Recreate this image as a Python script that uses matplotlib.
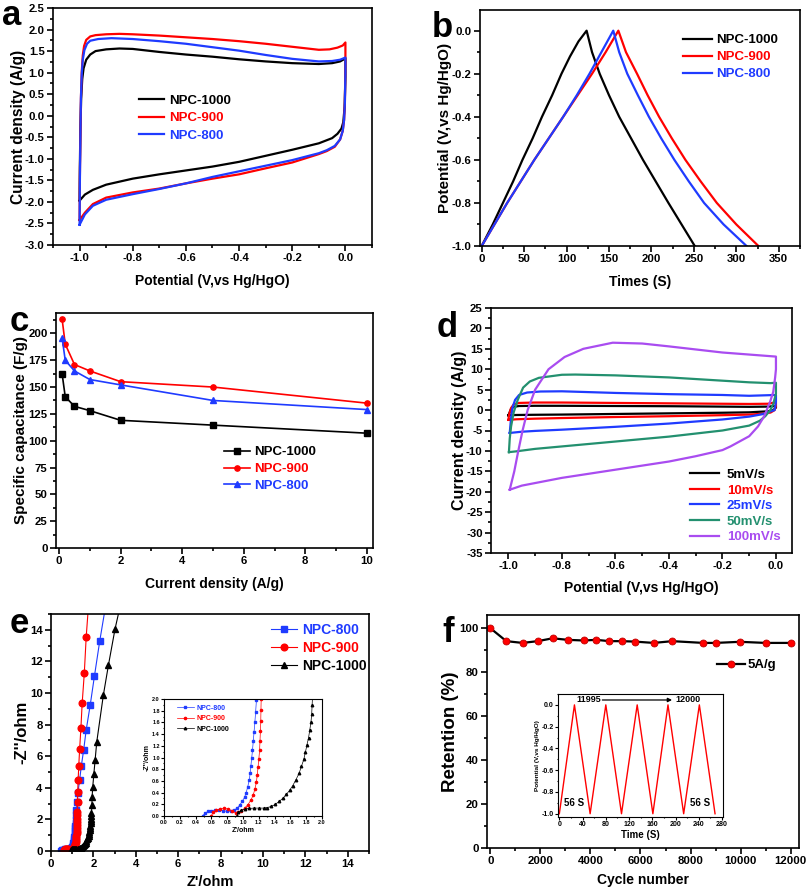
import matplotlib
matplotlib.use('Agg')
import matplotlib.pyplot as plt
from matplotlib.ticker import MultipleLocator

plt.rcParams['font.family'] = ['Liberation Sans', 'DejaVu Sans']
plt.rcParams['font.weight'] = 'bold'
plt.rcParams['axes.labelweight'] = 'bold'
plt.rcParams['axes.unicode_minus'] = False
plt.rcParams['axes.linewidth'] = 1.2

RED = '#ff0000'
BLUE = '#1f3bff'
GREEN = '#23906f'
PURPLE = '#a94cf0'

# ---------------- a: CV curves of the three samples ----------------
a_v_1000 = [-1.0, -0.999, -0.997, -0.994, -0.99, -0.985, -0.975, -0.96, -0.94, -0.9, -0.85, -0.8, -0.7, -0.6,
            -0.5, -0.4, -0.3, -0.2, -0.1, -0.05, -0.02, 0.0, 0.0, -0.003, -0.008, -0.015, -0.03, -0.05, -0.1,
            -0.2, -0.3, -0.4, -0.5, -0.6, -0.7, -0.8, -0.9, -0.95, -0.98, -1.0]
a_i_1000 = [-1.97, -1.2, -0.3, 0.4, 0.85, 1.1, 1.3, 1.42, 1.5, 1.54, 1.56, 1.55, 1.48, 1.42,
            1.37, 1.31, 1.26, 1.22, 1.2, 1.22, 1.26, 1.33, 0.9, 0.2, -0.15, -0.3, -0.42, -0.52, -0.64,
            -0.79, -0.93, -1.07, -1.18, -1.27, -1.36, -1.46, -1.6, -1.72, -1.83, -1.97]
a_v_900 = [-1.0, -0.999, -0.997, -0.995, -0.992, -0.988, -0.983, -0.975, -0.96, -0.94, -0.9, -0.85, -0.8, -0.7,
           -0.6, -0.5, -0.4, -0.3, -0.2, -0.1, -0.06, -0.03, -0.01, 0.0, 0.0, -0.002, -0.005, -0.01, -0.02,
           -0.04, -0.07, -0.1, -0.2, -0.3, -0.4, -0.5, -0.6, -0.7, -0.8, -0.9, -0.95, -0.98, -1.0]
a_i_900 = [-2.42, -1.5, -0.5, 0.4, 1.0, 1.4, 1.62, 1.76, 1.84, 1.87, 1.89, 1.9, 1.89, 1.86,
           1.82, 1.78, 1.73, 1.67, 1.6, 1.53, 1.54, 1.58, 1.63, 1.7, 1.2, 0.3, -0.1, -0.35, -0.55,
           -0.72, -0.82, -0.89, -1.085, -1.22, -1.36, -1.46, -1.57, -1.69, -1.78, -1.9, -2.05, -2.25, -2.42]
a_v_800 = [-1.0, -0.999, -0.997, -0.995, -0.992, -0.988, -0.982, -0.972, -0.96, -0.93, -0.88, -0.8, -0.7,
           -0.6, -0.5, -0.4, -0.3, -0.2, -0.1, -0.05, -0.02, 0.0, 0.0, -0.002, -0.005, -0.01, -0.02,
           -0.04, -0.07, -0.1, -0.2, -0.3, -0.4, -0.5, -0.6, -0.7, -0.8, -0.9, -0.95, -0.98, -1.0]
a_i_800 = [-2.53, -1.6, -0.5, 0.4, 0.95, 1.3, 1.52, 1.67, 1.74, 1.78, 1.8, 1.78, 1.73,
           1.67, 1.59, 1.51, 1.41, 1.32, 1.26, 1.27, 1.3, 1.35, 1.0, 0.3, -0.1, -0.35, -0.55,
           -0.7, -0.8, -0.87, -1.03, -1.16, -1.29, -1.42, -1.57, -1.7, -1.82, -1.95, -2.09, -2.29, -2.53]

# ---------------- b: charge / discharge ----------------
b_t_1000 = [0, 13, 25, 37, 48, 60, 71, 83, 94, 104, 114, 123.6, 130, 139, 150, 162, 176, 190, 205, 220, 235.5, 251]
b_v_1000 = [-1.0, -0.9, -0.8, -0.7, -0.6, -0.5, -0.4, -0.3, -0.2, -0.12, -0.05, 0.0, -0.1, -0.2, -0.3, -0.4,
            -0.5, -0.6, -0.7, -0.8, -0.9, -1.0]
b_t_900 = [0, 15, 30, 46, 62, 79, 96, 113, 130, 146, 161, 170, 183, 195.5, 209, 224, 240, 258, 277, 300, 326]
b_v_900 = [-1.0, -0.9, -0.8, -0.7, -0.6, -0.5, -0.4, -0.3, -0.2, -0.1, 0.0, -0.1, -0.2, -0.3, -0.4, -0.5,
           -0.6, -0.7, -0.8, -0.9, -1.0]
b_t_800 = [0, 15, 30, 46, 62, 79, 96, 112, 127, 141, 155, 162, 171.5, 184, 197, 211.5, 227, 244, 262, 285, 312]
b_v_800 = [-1.0, -0.9, -0.8, -0.7, -0.6, -0.5, -0.4, -0.3, -0.2, -0.1, 0.0, -0.1, -0.2, -0.3, -0.4, -0.5,
           -0.6, -0.7, -0.8, -0.9, -1.0]

# ---------------- c: rate capability ----------------
c_density = [0.1, 0.2, 0.5, 1, 2, 5, 10]
c_cap_1000 = [162, 141, 132, 128, 119, 114.5, 107]
c_cap_900 = [213, 190, 171, 165, 155, 150, 135]
c_cap_800 = [195.5, 175, 165, 157, 152, 137.5, 129]

# ---------------- d: CV at several scan rates ----------------
d_v_5 = [-1.0, -0.995, -0.99, -0.98, -0.96, -0.9, -0.8, -0.6, -0.4, -0.2, -0.1, -0.03, 0.0, 0.0, -0.01,
         -0.03, -0.1, -0.2, -0.4, -0.6, -0.8, -0.9, -0.97, -1.0]
d_i_5 = [-1.3, -0.5, 0.3, 0.8, 1.0, 1.05, 1.05, 1.0, 0.95, 0.85, 0.8, 0.85, 1.0, 0.6, 0.0,
         -0.3, -0.55, -0.65, -0.8, -0.95, -1.1, -1.15, -1.2, -1.3]
d_v_10 = [-1.0, -0.997, -0.99, -0.98, -0.96, -0.9, -0.8, -0.6, -0.4, -0.2, -0.1, -0.03, 0.0, 0.0, -0.005,
          -0.02, -0.05, -0.1, -0.2, -0.4, -0.6, -0.8, -0.9, -0.97, -1.0]
d_i_10 = [-2.4, -1.0, 0.5, 1.4, 1.75, 1.85, 1.85, 1.75, 1.65, 1.55, 1.5, 1.55, 1.9, 1.0, 0.0,
          -0.6, -0.9, -1.1, -1.25, -1.5, -1.7, -1.95, -2.1, -2.25, -2.4]
d_v_25 = [-0.995, -0.99, -0.985, -0.975, -0.96, -0.93, -0.88, -0.8, -0.6, -0.4, -0.2, -0.1, 0.0, 0.0,
          -0.005, -0.02, -0.05, -0.1, -0.2, -0.3, -0.4, -0.6, -0.8, -0.9, -0.95, -0.995]
d_i_25 = [-5.6, -2.0, 0.5, 2.5, 3.7, 4.3, 4.55, 4.6, 4.2, 3.9, 3.7, 3.5, 3.7, 2.0,
          0.0, -0.3, -1.0, -1.6, -2.3, -2.8, -3.3, -4.1, -4.8, -5.1, -5.3, -5.6]
d_v_50 = [-0.998, -0.995, -0.99, -0.98, -0.965, -0.945, -0.92, -0.886, -0.8, -0.75, -0.6, -0.4, -0.2, -0.1,
          -0.02, 0.0, 0.0, -0.01, -0.021, -0.04, -0.06, -0.1, -0.2, -0.4, -0.6, -0.8, -0.9, -0.97, -0.998]
d_i_50 = [-10.3, -7.0, -4.0, -0.5, 2.5, 5.5, 7.0, 7.9, 8.65, 8.7, 8.5, 8.0, 7.2, 6.8,
          6.6, 6.7, 4.0, 1.5, 0.0, -1.5, -2.6, -3.8, -5.0, -6.5, -7.7, -8.9, -9.5, -10.1, -10.3]
d_v_100 = [-0.995, -0.978, -0.963, -0.947, -0.928, -0.9, -0.85, -0.79, -0.72, -0.61, -0.5, -0.4, -0.2, 0.0,
           0.0, -0.003, -0.01, -0.022, -0.044, -0.067, -0.1, -0.17, -0.2, -0.3, -0.4, -0.6, -0.8, -0.95, -0.995]
d_i_100 = [-19.5, -15.0, -10.0, -5.0, 0.0, 5.0, 10.0, 13.0, 15.0, 16.5, 16.3, 15.6, 14.1, 13.1,
           10.0, 8.0, 4.5, 2.0, -1.5, -4.0, -6.4, -8.9, -9.8, -11.3, -12.6, -14.6, -16.6, -18.5, -19.5]

# ---------------- e: Nyquist plots ----------------
e_zr_800 = [0.49, 0.52, 0.56, 0.60, 0.65, 0.70, 0.75, 0.80, 0.85, 0.89, 0.93, 0.96, 0.99, 1.02, 1.04, 1.06,
            1.08, 1.09, 1.10, 1.11, 1.12, 1.13, 1.14, 1.15, 1.16, 1.17, 1.18, 1.20, 1.23, 1.27, 1.35, 1.43,
            1.54, 1.66, 1.85, 2.05, 2.30, 2.70]
e_zi_800 = [0.0, 0.05, 0.08, 0.09, 0.10, 0.10, 0.09, 0.08, 0.08, 0.10, 0.14, 0.19, 0.25, 0.32, 0.40, 0.50,
            0.62, 0.73, 0.86, 0.99, 1.12, 1.28, 1.44, 1.60, 1.78, 1.98, 2.25, 2.6, 3.1, 3.69, 4.49, 5.38,
            6.39, 7.66, 9.24, 11.08, 13.3, 16.5]
e_zr_900 = [0.60, 0.62, 0.66, 0.71, 0.76, 0.81, 0.86, 0.91, 0.94, 0.98, 1.02, 1.06, 1.10, 1.13, 1.15, 1.17,
            1.18, 1.19, 1.20, 1.21, 1.215, 1.22, 1.225, 1.227, 1.23, 1.235, 1.24, 1.25, 1.26, 1.28, 1.31,
            1.35, 1.41, 1.47, 1.57, 1.66, 1.82]
e_zi_900 = [0.0, 0.06, 0.10, 0.12, 0.13, 0.12, 0.09, 0.05, 0.06, 0.09, 0.13, 0.19, 0.27, 0.36, 0.46, 0.58,
            0.70, 0.83, 0.97, 1.12, 1.28, 1.45, 1.62, 1.81, 2.0, 2.25, 2.5, 3.08, 3.76, 4.49, 5.4,
            6.43, 7.76, 9.35, 11.24, 13.54, 16.5]
e_zr_1000 = [0.92, 0.94, 0.98, 1.03, 1.08, 1.14, 1.20, 1.26, 1.31, 1.36, 1.41, 1.46, 1.51, 1.55, 1.59, 1.63,
             1.67, 1.71, 1.74, 1.77, 1.79, 1.81, 1.83, 1.845, 1.86, 1.87, 1.875, 1.88, 1.89, 1.91, 1.93,
             1.94, 1.97, 2.02, 2.08, 2.16, 2.47, 2.71, 3.02, 3.43]
e_zi_1000 = [0.0, 0.06, 0.10, 0.12, 0.13, 0.135, 0.135, 0.135, 0.145, 0.165, 0.20, 0.25, 0.31, 0.37, 0.44, 0.52,
             0.62, 0.73, 0.85, 0.97, 1.09, 1.22, 1.34, 1.47, 1.6, 1.75, 1.9, 2.05, 2.2, 2.43, 2.91,
             3.44, 4.07, 4.85, 5.75, 6.92, 9.87, 11.77, 14.05, 16.5]

# ---------------- f: cycling stability ----------------
f_cycles = [0, 640, 1290, 1890, 2490, 3090, 3730, 4230, 4760, 5270, 5770, 6530, 7270, 8510, 9000, 9970,
            11000, 12000]
f_retention = [100, 94.1, 93.3, 94.1, 95.4, 94.7, 94.4, 94.7, 94.1, 94.1, 93.9, 93.3, 94.1, 93.3, 93.3, 93.8,
               93.3, 93.3]
f_time = [0, 26, 53, 80, 107, 134, 161, 187, 214, 241, 268]
f_potential = [-1.0, 0.0, -1.0, 0.0, -1.0, 0.0, -1.0, 0.0, -1.0, 0.0, -1.0]

W, H = 808, 891
fig = plt.figure(figsize=(W / 100, H / 100), dpi=100)


def box(l, t, r, b):
    return [l / W, 1 - b / H, (r - l) / W, (b - t) / H]


def style(ax, xmaj, xmin, ymaj, ymin, fs=8.2, mlen=4, lw=1.2):
    ax.xaxis.set_major_locator(MultipleLocator(xmaj))
    ax.xaxis.set_minor_locator(MultipleLocator(xmin))
    ax.yaxis.set_major_locator(MultipleLocator(ymaj))
    ax.yaxis.set_minor_locator(MultipleLocator(ymin))
    ax.tick_params(which='major', direction='out', length=mlen, width=lw, labelsize=fs, pad=2)
    ax.tick_params(which='minor', direction='out', length=mlen / 2, width=lw)
    for lab in ax.get_xticklabels() + ax.get_yticklabels():
        lab.set_fontweight('bold')
    for s in ax.spines.values():
        s.set_linewidth(lw)


def color_legend(leg):
    for txt, ln in zip(leg.get_texts(), leg.get_lines()):
        txt.set_color(ln.get_color())


# a
ax = fig.add_axes(box(53, 8, 372, 245))
ax.plot(a_v_1000, a_i_1000, color='k', lw=1.6, label='NPC-1000')
ax.plot(a_v_900, a_i_900, color=RED, lw=1.6, label='NPC-900')
ax.plot(a_v_800, a_i_800, color=BLUE, lw=1.6, label='NPC-800')
ax.set_xlim(-1.1, 0.1)
ax.set_ylim(-3.0, 2.5)
style(ax, 0.2, 0.1, 0.5, 0.25)
ax.set_xlabel('Potential (V,vs Hg/HgO)', fontsize=10, labelpad=8)
ax.set_ylabel('Current density (A/g)', fontsize=11.2, labelpad=-1)
leg = ax.legend(loc='center left', bbox_to_anchor=(0.27, 0.535), frameon=False, fontsize=9.5,
                handlelength=1.9, handletextpad=0.35, labelspacing=0.38, borderpad=0, borderaxespad=0)
color_legend(leg)

# b
ax = fig.add_axes(box(480, 10, 800, 246))
ax.plot(b_t_1000, b_v_1000, color='k', lw=1.6, label='NPC-1000')
ax.plot(b_t_900, b_v_900, color=RED, lw=1.6, label='NPC-900')
ax.plot(b_t_800, b_v_800, color=BLUE, lw=1.6, label='NPC-800')
ax.set_xlim(-2, 375)
ax.set_ylim(-1.0, 0.096)
style(ax, 50, 25, 0.2, 0.1)
ax.set_xlabel('Times (S)', fontsize=10, labelpad=8)
ax.set_ylabel('Potential (V,vs Hg/HgO)', fontsize=11, labelpad=0)
leg = ax.legend(loc='center left', bbox_to_anchor=(0.634, 0.80), frameon=False, fontsize=9.5,
                handlelength=2.2, handletextpad=0.3, labelspacing=0.35, borderpad=0, borderaxespad=0)
color_legend(leg)

# c
ax = fig.add_axes(box(56, 313, 373, 548))
ax.plot(c_density, c_cap_1000, color='k', lw=1.2, marker='s', ms=3.8, label='NPC-1000')
ax.plot(c_density, c_cap_900, color=RED, lw=1.2, marker='o', ms=3.8, label='NPC-900')
ax.plot(c_density, c_cap_800, color=BLUE, lw=1.2, marker='^', ms=4.2, label='NPC-800')
ax.set_xlim(-0.1, 10.2)
ax.set_ylim(0, 219)
style(ax, 2, 1, 25, 12.5)
ax.set_xlabel('Current density (A/g)', fontsize=10, labelpad=8)
ax.set_ylabel('Specific capacitance (F/g)', fontsize=11, labelpad=0)
leg = ax.legend(loc='center left', bbox_to_anchor=(0.53, 0.336), frameon=False, fontsize=9.5,
                handlelength=2.0, handletextpad=0.3, labelspacing=0.35, borderpad=0, borderaxespad=0,
                numpoints=1)
color_legend(leg)

# d
ax = fig.add_axes(box(491, 308, 792, 553))
ax.plot(d_v_5, d_i_5, color='k', lw=1.6, label='5mV/s')
ax.plot(d_v_10, d_i_10, color=RED, lw=1.6, label='10mV/s')
ax.plot(d_v_25, d_i_25, color=BLUE, lw=1.6, label='25mV/s')
ax.plot(d_v_50, d_i_50, color=GREEN, lw=1.6, label='50mV/s')
ax.plot(d_v_100, d_i_100, color=PURPLE, lw=1.6, label='100mV/s')
ax.set_xlim(-1.065, 0.06)
ax.set_ylim(-35, 25)
style(ax, 0.2, 0.1, 5, 2.5)
ax.set_xlabel('Potential (V,vs Hg/HgO)', fontsize=10, labelpad=7)
ax.set_ylabel('Current density (A/g)', fontsize=11.5, labelpad=-1)
leg = ax.legend(loc='center left', bbox_to_anchor=(0.661, 0.192), frameon=False, fontsize=9.5,
                handlelength=2.2, handletextpad=0.6, labelspacing=0.25, borderpad=0, borderaxespad=0)
color_legend(leg)

# e
ax = fig.add_axes(box(51, 614, 369, 851))
ax.plot(e_zr_800, e_zi_800, color=BLUE, lw=0.8, marker='s', ms=4.5, label='NPC-800')
ax.plot(e_zr_900, e_zi_900, color=RED, lw=0.8, marker='o', ms=4.8, label='NPC-900')
ax.plot(e_zr_1000, e_zi_1000, color='k', lw=0.8, marker='^', ms=5, label='NPC-1000')
ax.set_xlim(0, 15)
ax.set_ylim(0, 15)
style(ax, 2, 1, 2, 1)
ax.set_xlabel("Z'/ohm", fontsize=10.5, labelpad=4)
ax.set_ylabel("-Z''/ohm", fontsize=12, labelpad=0)
leg = ax.legend(loc='center left', bbox_to_anchor=(0.692, 0.857), frameon=False, fontsize=10,
                handlelength=1.9, handletextpad=0.35, labelspacing=0.3, borderpad=0, borderaxespad=0,
                numpoints=1)
color_legend(leg)

# e inset
ax = fig.add_axes(box(164, 699, 322, 816))
ax.plot(e_zr_800, e_zi_800, color=BLUE, lw=0.5, marker='s', ms=1.6, label='NPC-800')
ax.plot(e_zr_900, e_zi_900, color=RED, lw=0.5, marker='o', ms=1.6, label='NPC-900')
ax.plot(e_zr_1000, e_zi_1000, color='k', lw=0.5, marker='^', ms=1.8, label='NPC-1000')
ax.set_xlim(0, 2)
ax.set_ylim(0, 2)
style(ax, 0.2, 0.1, 0.2, 0.1, fs=4, mlen=2, lw=0.8)
ax.tick_params(which='major', pad=1)
ax.set_xlabel("Z'/ohm", fontsize=5, labelpad=1)
ax.set_ylabel("-Z''/ohm", fontsize=5, labelpad=1)
leg = ax.legend(loc='center left', bbox_to_anchor=(0.08, 0.83), frameon=False, fontsize=5,
                handlelength=2.5, handletextpad=0.4, labelspacing=0.5, borderpad=0, borderaxespad=0,
                numpoints=1)
color_legend(leg)

# f
ax = fig.add_axes(box(487, 615, 799, 848))
ax.plot(f_cycles, f_retention, color='k', lw=1.6, marker='o', ms=5, mfc=RED, mec='#c00000', mew=0.6,
        label='5A/g')
ax.set_xlim(-133, 12333)
ax.set_ylim(0, 106)
style(ax, 2000, 1000, 20, 10)
ax.set_xlabel('Cycle number', fontsize=10, labelpad=5)
ax.set_ylabel('Retention (%)', fontsize=13.5, labelpad=0)
ax.legend(loc='center left', bbox_to_anchor=(0.737, 0.785), frameon=False, fontsize=9.5,
          handlelength=2.1, handletextpad=0.2, borderpad=0, borderaxespad=0, numpoints=1)

# f inset
ax = fig.add_axes(box(558, 694, 723, 817))
ax.plot(f_time, f_potential, color=RED, lw=1.0)
ax.set_xlim(-2.3, 281.7)
ax.set_ylim(-1.03, 0.1)
style(ax, 40, 20, 0.2, 0.1, fs=5, mlen=2, lw=0.8)
ax.tick_params(which='major', pad=1)
ax.set_xlabel('Time (S)', fontsize=7, labelpad=1)
ax.set_ylabel('Potential (V,vs Hg/HgO)', fontsize=4.6, labelpad=1)
ax.annotate('', xy=(194, 0.045), xytext=(74, 0.045),
            arrowprops=dict(arrowstyle='-|>', color='k', lw=0.9, mutation_scale=6, shrinkA=0, shrinkB=0))
ax.text(50, 0.045, '11995', fontsize=6.5, ha='center', va='center')
ax.text(221, 0.045, '12000', fontsize=6.5, ha='center', va='center')
ax.text(25, -0.9, '56 S', fontsize=7, ha='center', va='center')
ax.text(243, -0.9, '56 S', fontsize=7, ha='center', va='center')

# panel letters
for letter, x, y in [('a', 2, 25), ('b', 432, 37), ('c', 10, 331), ('d', 437, 337), ('e', 10, 633),
                     ('f', 442, 642)]:
    fig.text(x / W, 1 - y / H, letter, fontsize=25, fontweight='bold', va='baseline', ha='left')

fig.savefig('out.png', dpi=100)
